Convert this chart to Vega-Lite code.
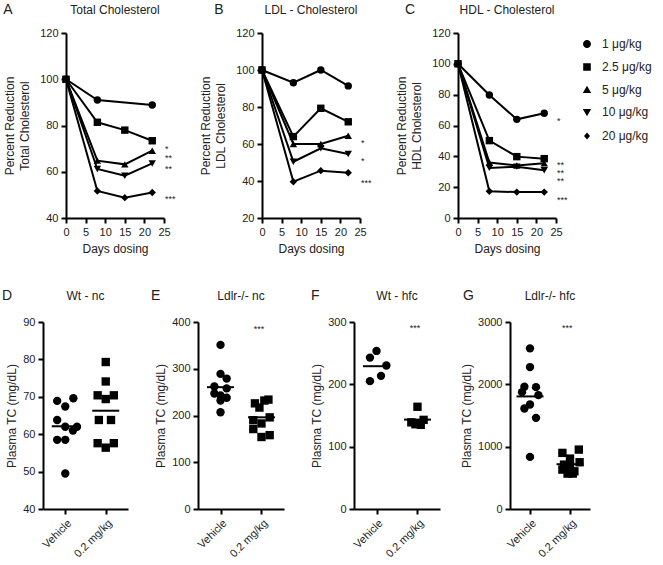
{
  "$schema": "https://vega.github.io/schema/vega-lite/v6.json",
  "padding": {"left": 2, "top": 2, "right": 2, "bottom": 2},
  "config": {
    "font": "Liberation Sans",
    "view": {"stroke": null},
    "axis": {"grid": false, "domainColor": "black", "domainWidth": 2, "tickColor": "black", "tickWidth": 2, "tickSize": 5, "labelFontSize": 11, "labelColor": "#222", "titleFontSize": 12, "titleFontWeight": "normal", "titleColor": "#222", "labelPadding": 3, "labelFlush": false, "labelOverlap": false, "titleLineHeight": 15},
    "text": {"color": "#222"}
  },
  "datasets": {
    "tc": [
      {"dose": "1 μg/kg", "day": 0, "value": 100}, {"dose": "1 μg/kg", "day": 8, "value": 91}, {"dose": "1 μg/kg", "day": 22, "value": 88.9},
      {"dose": "2.5 μg/kg", "day": 0, "value": 100}, {"dose": "2.5 μg/kg", "day": 8, "value": 81.4}, {"dose": "2.5 μg/kg", "day": 15, "value": 78}, {"dose": "2.5 μg/kg", "day": 22, "value": 73.4},
      {"dose": "5 μg/kg", "day": 0, "value": 100}, {"dose": "5 μg/kg", "day": 8, "value": 64.8}, {"dose": "5 μg/kg", "day": 15, "value": 63.2}, {"dose": "5 μg/kg", "day": 22, "value": 69.1},
      {"dose": "10 μg/kg", "day": 0, "value": 100}, {"dose": "10 μg/kg", "day": 8, "value": 61.2}, {"dose": "10 μg/kg", "day": 15, "value": 58.3}, {"dose": "10 μg/kg", "day": 22, "value": 63.6},
      {"dose": "20 μg/kg", "day": 0, "value": 100}, {"dose": "20 μg/kg", "day": 8, "value": 51.7}, {"dose": "20 μg/kg", "day": 15, "value": 48.8}, {"dose": "20 μg/kg", "day": 22, "value": 51}
    ],
    "ldl": [
      {"dose": "1 μg/kg", "day": 0, "value": 100}, {"dose": "1 μg/kg", "day": 8, "value": 93.1}, {"dose": "1 μg/kg", "day": 15, "value": 100}, {"dose": "1 μg/kg", "day": 22, "value": 91.4},
      {"dose": "2.5 μg/kg", "day": 0, "value": 100}, {"dose": "2.5 μg/kg", "day": 8, "value": 64}, {"dose": "2.5 μg/kg", "day": 15, "value": 79.3}, {"dose": "2.5 μg/kg", "day": 22, "value": 72},
      {"dose": "5 μg/kg", "day": 0, "value": 100}, {"dose": "5 μg/kg", "day": 8, "value": 60}, {"dose": "5 μg/kg", "day": 15, "value": 60}, {"dose": "5 μg/kg", "day": 22, "value": 64.5},
      {"dose": "10 μg/kg", "day": 0, "value": 100}, {"dose": "10 μg/kg", "day": 8, "value": 50.4}, {"dose": "10 μg/kg", "day": 15, "value": 57.7}, {"dose": "10 μg/kg", "day": 22, "value": 54.6},
      {"dose": "20 μg/kg", "day": 0, "value": 100}, {"dose": "20 μg/kg", "day": 8, "value": 39.6}, {"dose": "20 μg/kg", "day": 15, "value": 45.6}, {"dose": "20 μg/kg", "day": 22, "value": 44.5}
    ],
    "hdl": [
      {"dose": "1 μg/kg", "day": 0, "value": 100}, {"dose": "1 μg/kg", "day": 8, "value": 79.8}, {"dose": "1 μg/kg", "day": 15, "value": 64}, {"dose": "1 μg/kg", "day": 22, "value": 67.9},
      {"dose": "2.5 μg/kg", "day": 0, "value": 100}, {"dose": "2.5 μg/kg", "day": 8, "value": 50.2}, {"dose": "2.5 μg/kg", "day": 15, "value": 39.8}, {"dose": "2.5 μg/kg", "day": 22, "value": 38.5},
      {"dose": "5 μg/kg", "day": 0, "value": 100}, {"dose": "5 μg/kg", "day": 8, "value": 36}, {"dose": "5 μg/kg", "day": 15, "value": 34}, {"dose": "5 μg/kg", "day": 22, "value": 35.5},
      {"dose": "10 μg/kg", "day": 0, "value": 100}, {"dose": "10 μg/kg", "day": 8, "value": 32.5}, {"dose": "10 μg/kg", "day": 15, "value": 33.3}, {"dose": "10 μg/kg", "day": 22, "value": 31},
      {"dose": "20 μg/kg", "day": 0, "value": 100}, {"dose": "20 μg/kg", "day": 8, "value": 17.3}, {"dose": "20 μg/kg", "day": 15, "value": 16.8}, {"dose": "20 μg/kg", "day": 22, "value": 16.8}
    ],
    "tcStars": [{"day": 25, "value": 72, "label": "*"}, {"day": 25, "value": 68, "label": "**"}, {"day": 25, "value": 63.2, "label": "**"}, {"day": 25, "value": 50.2, "label": "***"}],
    "ldlStars": [{"day": 25, "value": 63.1, "label": "*"}, {"day": 25, "value": 53.5, "label": "*"}, {"day": 25, "value": 41.5, "label": "***"}],
    "hdlStars": [{"day": 25, "value": 66.2, "label": "*"}, {"day": 25, "value": 37.6, "label": "**"}, {"day": 25, "value": 32.6, "label": "**"}, {"day": 25, "value": 27.4, "label": "**"}, {"day": 25, "value": 14.9, "label": "***"}],
    "wtnc": [
      {"group": "Vehicle", "g": 1, "x": 0.8, "value": 68.9}, {"group": "Vehicle", "g": 1, "x": 1.2, "value": 69.6}, {"group": "Vehicle", "g": 1, "x": 1.0, "value": 67.4}, {"group": "Vehicle", "g": 1, "x": 0.8, "value": 63.8}, {"group": "Vehicle", "g": 1, "x": 1.0, "value": 62.0},
      {"group": "Vehicle", "g": 1, "x": 1.29, "value": 62.0}, {"group": "Vehicle", "g": 1, "x": 1.19, "value": 61.0}, {"group": "Vehicle", "g": 1, "x": 0.8, "value": 58.5}, {"group": "Vehicle", "g": 1, "x": 1.0, "value": 58.5}, {"group": "Vehicle", "g": 1, "x": 1.0, "value": 49.5},
      {"group": "0.2 mg/kg", "g": 2, "x": 2.0, "value": 79.3}, {"group": "0.2 mg/kg", "g": 2, "x": 2.0, "value": 74.1}, {"group": "0.2 mg/kg", "g": 2, "x": 1.8, "value": 70.4}, {"group": "0.2 mg/kg", "g": 2, "x": 2.2, "value": 70.4}, {"group": "0.2 mg/kg", "g": 2, "x": 2.0, "value": 69.4},
      {"group": "0.2 mg/kg", "g": 2, "x": 1.83, "value": 63.8}, {"group": "0.2 mg/kg", "g": 2, "x": 2.13, "value": 63.8}, {"group": "0.2 mg/kg", "g": 2, "x": 1.8, "value": 57.6}, {"group": "0.2 mg/kg", "g": 2, "x": 2.2, "value": 57.6}, {"group": "0.2 mg/kg", "g": 2, "x": 2.0, "value": 56.4}
    ],
    "ldlrnc": [
      {"group": "Vehicle", "g": 1, "x": 1.0, "value": 351}, {"group": "Vehicle", "g": 1, "x": 1.0, "value": 289}, {"group": "Vehicle", "g": 1, "x": 1.15, "value": 279}, {"group": "Vehicle", "g": 1, "x": 0.85, "value": 262}, {"group": "Vehicle", "g": 1, "x": 1.15, "value": 258},
      {"group": "Vehicle", "g": 1, "x": 0.85, "value": 247}, {"group": "Vehicle", "g": 1, "x": 1.0, "value": 243}, {"group": "Vehicle", "g": 1, "x": 1.15, "value": 238}, {"group": "Vehicle", "g": 1, "x": 1.0, "value": 232}, {"group": "Vehicle", "g": 1, "x": 1.0, "value": 207},
      {"group": "0.2 mg/kg", "g": 2, "x": 1.84, "value": 226}, {"group": "0.2 mg/kg", "g": 2, "x": 2.07, "value": 232}, {"group": "0.2 mg/kg", "g": 2, "x": 2.17, "value": 234}, {"group": "0.2 mg/kg", "g": 2, "x": 1.95, "value": 217}, {"group": "0.2 mg/kg", "g": 2, "x": 2.2, "value": 196},
      {"group": "0.2 mg/kg", "g": 2, "x": 1.8, "value": 190}, {"group": "0.2 mg/kg", "g": 2, "x": 2.0, "value": 183}, {"group": "0.2 mg/kg", "g": 2, "x": 1.8, "value": 171}, {"group": "0.2 mg/kg", "g": 2, "x": 2.2, "value": 158}, {"group": "0.2 mg/kg", "g": 2, "x": 2.0, "value": 154}
    ],
    "wthfc": [
      {"group": "Vehicle", "g": 1, "x": 1.0, "value": 253.6}, {"group": "Vehicle", "g": 1, "x": 0.84, "value": 242.9}, {"group": "Vehicle", "g": 1, "x": 1.24, "value": 230.2}, {"group": "Vehicle", "g": 1, "x": 1.11, "value": 213.6}, {"group": "Vehicle", "g": 1, "x": 0.84, "value": 205.1},
      {"group": "0.2 mg/kg", "g": 2, "x": 2.0, "value": 164}, {"group": "0.2 mg/kg", "g": 2, "x": 2.15, "value": 143}, {"group": "0.2 mg/kg", "g": 2, "x": 1.85, "value": 139}, {"group": "0.2 mg/kg", "g": 2, "x": 1.95, "value": 136}, {"group": "0.2 mg/kg", "g": 2, "x": 2.08, "value": 135}
    ],
    "ldlrhfc": [
      {"group": "Vehicle", "g": 1, "x": 1.0, "value": 2577}, {"group": "Vehicle", "g": 1, "x": 1.0, "value": 2277}, {"group": "Vehicle", "g": 1, "x": 0.86, "value": 1961}, {"group": "Vehicle", "g": 1, "x": 1.15, "value": 1955}, {"group": "Vehicle", "g": 1, "x": 0.8, "value": 1875},
      {"group": "Vehicle", "g": 1, "x": 1.21, "value": 1827}, {"group": "Vehicle", "g": 1, "x": 1.0, "value": 1677}, {"group": "Vehicle", "g": 1, "x": 0.86, "value": 1613}, {"group": "Vehicle", "g": 1, "x": 1.15, "value": 1462}, {"group": "Vehicle", "g": 1, "x": 1.0, "value": 836},
      {"group": "0.2 mg/kg", "g": 2, "x": 2.22, "value": 953}, {"group": "0.2 mg/kg", "g": 2, "x": 1.81, "value": 900}, {"group": "0.2 mg/kg", "g": 2, "x": 2.0, "value": 809}, {"group": "0.2 mg/kg", "g": 2, "x": 2.24, "value": 750}, {"group": "0.2 mg/kg", "g": 2, "x": 1.85, "value": 712},
      {"group": "0.2 mg/kg", "g": 2, "x": 2.0, "value": 686}, {"group": "0.2 mg/kg", "g": 2, "x": 1.81, "value": 632}, {"group": "0.2 mg/kg", "g": 2, "x": 2.11, "value": 605}, {"group": "0.2 mg/kg", "g": 2, "x": 1.94, "value": 568}, {"group": "0.2 mg/kg", "g": 2, "x": 2.07, "value": 568}
    ]
  },
  "spacing": 34,
  "vconcat": [
    {
      "bounds": "flush",
      "spacing": 22,
      "hconcat": [
        {"width": 1, "height": 1, "data": {"values": [{"t": ""}]}, "mark": {"type": "text"}, "encoding": {"text": {"field": "t"}}},
        {
          "bounds": "flush",
          "spacing": 98,
          "hconcat": [
            {
              "width": 98, "height": 185,
              "layer": [
                {
                  "data": {"name": "tc"},
                  "encoding": {
                    "x": {"field": "day", "type": "quantitative", "scale": {"domain": [0, 25], "nice": false}, "axis": {"values": [0, 5, 10, 15, 20, 25], "title": "Days dosing", "titlePadding": 6}},
                    "y": {"field": "value", "type": "quantitative", "scale": {"domain": [40, 120], "nice": false, "zero": false}, "axis": {"values": [40, 60, 80, 100, 120], "title": ["Percent Reduction", "Total Cholesterol"], "titlePadding": 8}}
                  },
                  "layer": [
                    {"mark": {"type": "line", "color": "black", "strokeWidth": 2}, "encoding": {"detail": {"field": "dose"}}},
                    {"mark": {"type": "point", "filled": true, "color": "black", "size": 55, "opacity": 1}, "encoding": {"shape": {"field": "dose", "type": "nominal", "scale": {"domain": ["1 μg/kg", "2.5 μg/kg", "5 μg/kg", "10 μg/kg", "20 μg/kg"], "range": ["circle", "square", "triangle-up", "triangle-down", "diamond"]}, "legend": null}}},
                    {"data": {"name": "tcStars"}, "mark": {"type": "text", "align": "left", "dx": 1, "dy": 5, "fontSize": 9}, "encoding": {"text": {"field": "label"}}}
                  ]
                },
                {"data": {"values": [{"t": "A"}]}, "mark": {"type": "text", "align": "left", "baseline": "middle", "fontSize": 14}, "encoding": {"x": {"datum": -16, "type": "quantitative", "axis": {"values": [0, 5, 10, 15, 20, 25], "title": "Days dosing", "titlePadding": 6}}, "y": {"datum": 130, "type": "quantitative", "axis": {"values": [40, 60, 80, 100, 120], "title": ["Percent Reduction", "Total Cholesterol"], "titlePadding": 8}}, "text": {"field": "t"}}},
                {"data": {"values": [{"t": "Total Cholesterol"}]}, "mark": {"type": "text", "align": "center", "baseline": "middle", "fontSize": 12}, "encoding": {"x": {"datum": 12.5, "type": "quantitative", "axis": {"values": [0, 5, 10, 15, 20, 25], "title": "Days dosing", "titlePadding": 6}}, "y": {"datum": 130, "type": "quantitative", "axis": {"values": [40, 60, 80, 100, 120], "title": ["Percent Reduction", "Total Cholesterol"], "titlePadding": 8}}, "text": {"field": "t"}}}
              ]
            },
            {
              "width": 98, "height": 185,
              "layer": [
                {
                  "data": {"name": "ldl"},
                  "encoding": {
                    "x": {"field": "day", "type": "quantitative", "scale": {"domain": [0, 25], "nice": false}, "axis": {"values": [0, 5, 10, 15, 20, 25], "title": "Days dosing", "titlePadding": 6}},
                    "y": {"field": "value", "type": "quantitative", "scale": {"domain": [20, 120], "nice": false, "zero": false}, "axis": {"values": [20, 40, 60, 80, 100, 120], "title": ["Percent Reduction", "LDL Cholesterol"], "titlePadding": 8}}
                  },
                  "layer": [
                    {"mark": {"type": "line", "color": "black", "strokeWidth": 2}, "encoding": {"detail": {"field": "dose"}}},
                    {"mark": {"type": "point", "filled": true, "color": "black", "size": 55, "opacity": 1}, "encoding": {"shape": {"field": "dose", "type": "nominal", "scale": {"domain": ["1 μg/kg", "2.5 μg/kg", "5 μg/kg", "10 μg/kg", "20 μg/kg"], "range": ["circle", "square", "triangle-up", "triangle-down", "diamond"]}, "legend": null}}},
                    {"data": {"name": "ldlStars"}, "mark": {"type": "text", "align": "left", "dx": 1, "dy": 5, "fontSize": 9}, "encoding": {"text": {"field": "label"}}}
                  ]
                },
                {"data": {"values": [{"t": "B"}]}, "mark": {"type": "text", "align": "left", "baseline": "middle", "fontSize": 14}, "encoding": {"x": {"datum": -12.2, "type": "quantitative", "axis": {"values": [0, 5, 10, 15, 20, 25], "title": "Days dosing", "titlePadding": 6}}, "y": {"datum": 132.4, "type": "quantitative", "axis": {"values": [20, 40, 60, 80, 100, 120], "title": ["Percent Reduction", "LDL Cholesterol"], "titlePadding": 8}}, "text": {"field": "t"}}},
                {"data": {"values": [{"t": "LDL - Cholesterol"}]}, "mark": {"type": "text", "align": "center", "baseline": "middle", "fontSize": 12}, "encoding": {"x": {"datum": 12.5, "type": "quantitative", "axis": {"values": [0, 5, 10, 15, 20, 25], "title": "Days dosing", "titlePadding": 6}}, "y": {"datum": 132.4, "type": "quantitative", "axis": {"values": [20, 40, 60, 80, 100, 120], "title": ["Percent Reduction", "LDL Cholesterol"], "titlePadding": 8}}, "text": {"field": "t"}}}
              ]
            },
            {
              "width": 98, "height": 185,
              "layer": [
                {
                  "data": {"name": "hdl"},
                  "resolve": {"scale": {"shape": "independent"}},
                  "encoding": {
                    "x": {"field": "day", "type": "quantitative", "scale": {"domain": [0, 25], "nice": false}, "axis": {"values": [0, 5, 10, 15, 20, 25], "title": "Days dosing", "titlePadding": 6}},
                    "y": {"field": "value", "type": "quantitative", "scale": {"domain": [0, 120], "nice": false, "zero": false}, "axis": {"values": [0, 20, 40, 60, 80, 100, 120], "title": ["Percent Reduction", "HDL Cholesterol"], "titlePadding": 8}}
                  },
                  "layer": [
                    {"mark": {"type": "line", "color": "black", "strokeWidth": 2}, "encoding": {"detail": {"field": "dose"}}},
                    {"mark": {"type": "point", "filled": true, "color": "black", "size": 55, "opacity": 1}, "encoding": {"shape": {"field": "dose", "type": "nominal", "scale": {"domain": ["1 μg/kg", "2.5 μg/kg", "5 μg/kg", "10 μg/kg", "20 μg/kg"], "range": ["circle", "square", "triangle-up", "triangle-down", "diamond"]}, "legend": null}}},
                    {"mark": {"type": "point", "filled": true, "color": "black", "opacity": 0}, "encoding": {"shape": {"field": "dose", "type": "nominal", "scale": {"domain": ["1 μg/kg", "2.5 μg/kg", "5 μg/kg", "10 μg/kg", "20 μg/kg"], "range": ["M-1,0L1,0M0.4,0A0.4,0.4,0,1,1,-0.4,0A0.4,0.4,0,1,1,0.4,0Z", "M-1,0L1,0M-0.38,-0.38L0.38,-0.38L0.38,0.38L-0.38,0.38Z", "M-1,0L1,0M0,-0.42L0.42,0.3L-0.42,0.3Z", "M-1,0L1,0M0,0.42L0.42,-0.3L-0.42,-0.3Z", "M-1,0L1,0M0,-0.36L0.3,0L0,0.36L-0.3,0Z"]}, "legend": {"title": null, "orient": "right", "offset": 20, "padding": 0, "symbolSize": 400, "symbolStrokeWidth": 2, "symbolFillColor": "black", "symbolStrokeColor": "black", "symbolOpacity": 1, "labelFontSize": 12, "labelColor": "#222", "labelOffset": 4, "rowPadding": 4, "encode": {"symbols": {"update": {"fill": {"value": "black"}, "stroke": {"value": "black"}, "strokeWidth": {"value": 2}, "opacity": {"value": 1}, "size": {"value": 400}}}}}}}},
                    {"data": {"name": "hdlStars"}, "mark": {"type": "text", "align": "left", "dx": 1, "dy": 5, "fontSize": 9}, "encoding": {"text": {"field": "label"}}}
                  ]
                },
                {"data": {"values": [{"t": "C"}]}, "mark": {"type": "text", "align": "left", "baseline": "middle", "fontSize": 14}, "encoding": {"x": {"datum": -13.5, "type": "quantitative", "axis": {"values": [0, 5, 10, 15, 20, 25], "title": "Days dosing", "titlePadding": 6}}, "y": {"datum": 135, "type": "quantitative", "axis": {"values": [0, 20, 40, 60, 80, 100, 120], "title": ["Percent Reduction", "HDL Cholesterol"], "titlePadding": 8}}, "text": {"field": "t"}}},
                {"data": {"values": [{"t": "HDL - Cholesterol"}]}, "mark": {"type": "text", "align": "center", "baseline": "middle", "fontSize": 12}, "encoding": {"x": {"datum": 12.5, "type": "quantitative", "axis": {"values": [0, 5, 10, 15, 20, 25], "title": "Days dosing", "titlePadding": 6}}, "y": {"datum": 135, "type": "quantitative", "axis": {"values": [0, 20, 40, 60, 80, 100, 120], "title": ["Percent Reduction", "HDL Cholesterol"], "titlePadding": 8}}, "text": {"field": "t"}}}
              ]
            }
          ]
        }
      ]
    },
    {
      "bounds": "flush",
      "spacing": 70,
      "hconcat": [
        {
          "width": 85, "height": 187,
          "layer": [
            {
              "data": {"name": "wtnc"},
              "encoding": {
                "x": {"field": "x", "type": "quantitative", "scale": {"domain": [0.45, 2.55], "nice": false, "zero": false}, "axis": {"values": [1, 2], "labelExpr": "datum.value == 1 ? 'Vehicle' : '0.2 mg/kg'", "labelAngle": -45, "title": null}},
                "y": {"field": "value", "type": "quantitative", "scale": {"domain": [40, 90], "nice": false, "zero": false}, "axis": {"values": [40, 50, 60, 70, 80, 90], "title": "Plasma TC (mg/dL)", "titlePadding": 4}}
              },
              "layer": [
                {"mark": {"type": "point", "filled": true, "color": "black", "size": 70, "opacity": 1}, "encoding": {"shape": {"field": "group", "type": "nominal", "scale": {"domain": ["Vehicle", "0.2 mg/kg"], "range": ["circle", "square"]}, "legend": null}}},
                {"transform": [{"aggregate": [{"op": "mean", "field": "value", "as": "mean"}], "groupby": ["g"]}], "mark": {"type": "tick", "orient": "horizontal", "size": 27, "thickness": 2, "color": "black", "opacity": 1}, "encoding": {"x": {"field": "g", "type": "quantitative"}, "y": {"field": "mean", "type": "quantitative"}}}
              ]
            },
            {"data": {"values": [{"t": "D"}]}, "mark": {"type": "text", "align": "left", "baseline": "middle", "fontSize": 14}, "encoding": {"x": {"datum": -0.56, "type": "quantitative", "axis": {"values": [1, 2], "labelExpr": "datum.value == 1 ? 'Vehicle' : '0.2 mg/kg'", "labelAngle": -45, "title": null}}, "y": {"datum": 97, "type": "quantitative", "axis": {"values": [40, 50, 60, 70, 80, 90], "title": "Plasma TC (mg/dL)", "titlePadding": 4}}, "text": {"field": "t"}}},
            {"data": {"values": [{"t": "Wt - nc"}]}, "mark": {"type": "text", "align": "center", "baseline": "middle", "fontSize": 12}, "encoding": {"x": {"datum": 1.5, "type": "quantitative", "axis": {"values": [1, 2], "labelExpr": "datum.value == 1 ? 'Vehicle' : '0.2 mg/kg'", "labelAngle": -45, "title": null}}, "y": {"datum": 97, "type": "quantitative", "axis": {"values": [40, 50, 60, 70, 80, 90], "title": "Plasma TC (mg/dL)", "titlePadding": 4}}, "text": {"field": "t"}}}
          ]
        },
        {
          "width": 86, "height": 187,
          "layer": [
            {
              "data": {"name": "ldlrnc"},
              "encoding": {
                "x": {"field": "x", "type": "quantitative", "scale": {"domain": [0.45, 2.55], "nice": false, "zero": false}, "axis": {"values": [1, 2], "labelExpr": "datum.value == 1 ? 'Vehicle' : '0.2 mg/kg'", "labelAngle": -45, "title": null}},
                "y": {"field": "value", "type": "quantitative", "scale": {"domain": [0, 400], "nice": false}, "axis": {"values": [0, 100, 200, 300, 400], "title": "Plasma TC (mg/dL)", "titlePadding": 4}}
              },
              "layer": [
                {"mark": {"type": "point", "filled": true, "color": "black", "size": 70, "opacity": 1}, "encoding": {"shape": {"field": "group", "type": "nominal", "scale": {"domain": ["Vehicle", "0.2 mg/kg"], "range": ["circle", "square"]}, "legend": null}}},
                {"transform": [{"aggregate": [{"op": "mean", "field": "value", "as": "mean"}], "groupby": ["g"]}], "mark": {"type": "tick", "orient": "horizontal", "size": 27, "thickness": 2, "color": "black", "opacity": 1}, "encoding": {"x": {"field": "g", "type": "quantitative"}, "y": {"field": "mean", "type": "quantitative"}}}
              ]
            },
            {"data": {"values": [{"t": "***"}]}, "mark": {"type": "text", "align": "center", "dy": 5, "fontSize": 9}, "encoding": {"x": {"datum": 1.94, "type": "quantitative", "axis": {"values": [1, 2], "labelExpr": "datum.value == 1 ? 'Vehicle' : '0.2 mg/kg'", "labelAngle": -45, "title": null}}, "y": {"datum": 396, "type": "quantitative", "axis": {"values": [0, 100, 200, 300, 400], "title": "Plasma TC (mg/dL)", "titlePadding": 4}}, "text": {"field": "t"}}},
            {"data": {"values": [{"t": "E"}]}, "mark": {"type": "text", "align": "left", "baseline": "middle", "fontSize": 14}, "encoding": {"x": {"datum": -0.7, "type": "quantitative", "axis": {"values": [1, 2], "labelExpr": "datum.value == 1 ? 'Vehicle' : '0.2 mg/kg'", "labelAngle": -45, "title": null}}, "y": {"datum": 455.6, "type": "quantitative", "axis": {"values": [0, 100, 200, 300, 400], "title": "Plasma TC (mg/dL)", "titlePadding": 4}}, "text": {"field": "t"}}},
            {"data": {"values": [{"t": "Ldlr-/- nc"}]}, "mark": {"type": "text", "align": "center", "baseline": "middle", "fontSize": 12}, "encoding": {"x": {"datum": 1.5, "type": "quantitative", "axis": {"values": [1, 2], "labelExpr": "datum.value == 1 ? 'Vehicle' : '0.2 mg/kg'", "labelAngle": -45, "title": null}}, "y": {"datum": 455.6, "type": "quantitative", "axis": {"values": [0, 100, 200, 300, 400], "title": "Plasma TC (mg/dL)", "titlePadding": 4}}, "text": {"field": "t"}}}
          ]
        },
        {
          "width": 86, "height": 187,
          "layer": [
            {
              "data": {"name": "wthfc"},
              "encoding": {
                "x": {"field": "x", "type": "quantitative", "scale": {"domain": [0.45, 2.55], "nice": false, "zero": false}, "axis": {"values": [1, 2], "labelExpr": "datum.value == 1 ? 'Vehicle' : '0.2 mg/kg'", "labelAngle": -45, "title": null}},
                "y": {"field": "value", "type": "quantitative", "scale": {"domain": [0, 300], "nice": false}, "axis": {"values": [0, 100, 200, 300], "title": "Plasma TC (mg/dL)", "titlePadding": 4}}
              },
              "layer": [
                {"mark": {"type": "point", "filled": true, "color": "black", "size": 70, "opacity": 1}, "encoding": {"shape": {"field": "group", "type": "nominal", "scale": {"domain": ["Vehicle", "0.2 mg/kg"], "range": ["circle", "square"]}, "legend": null}}},
                {"transform": [{"aggregate": [{"op": "mean", "field": "value", "as": "mean"}], "groupby": ["g"]}], "mark": {"type": "tick", "orient": "horizontal", "size": 27, "thickness": 2, "color": "black", "opacity": 1}, "encoding": {"x": {"field": "g", "type": "quantitative"}, "y": {"field": "mean", "type": "quantitative"}}}
              ]
            },
            {"data": {"values": [{"t": "***"}]}, "mark": {"type": "text", "align": "center", "dy": 5, "fontSize": 9}, "encoding": {"x": {"datum": 1.94, "type": "quantitative", "axis": {"values": [1, 2], "labelExpr": "datum.value == 1 ? 'Vehicle' : '0.2 mg/kg'", "labelAngle": -45, "title": null}}, "y": {"datum": 298, "type": "quantitative", "axis": {"values": [0, 100, 200, 300], "title": "Plasma TC (mg/dL)", "titlePadding": 4}}, "text": {"field": "t"}}},
            {"data": {"values": [{"t": "F"}]}, "mark": {"type": "text", "align": "left", "baseline": "middle", "fontSize": 14}, "encoding": {"x": {"datum": -0.6, "type": "quantitative", "axis": {"values": [1, 2], "labelExpr": "datum.value == 1 ? 'Vehicle' : '0.2 mg/kg'", "labelAngle": -45, "title": null}}, "y": {"datum": 341.7, "type": "quantitative", "axis": {"values": [0, 100, 200, 300], "title": "Plasma TC (mg/dL)", "titlePadding": 4}}, "text": {"field": "t"}}},
            {"data": {"values": [{"t": "Wt - hfc"}]}, "mark": {"type": "text", "align": "center", "baseline": "middle", "fontSize": 12}, "encoding": {"x": {"datum": 1.5, "type": "quantitative", "axis": {"values": [1, 2], "labelExpr": "datum.value == 1 ? 'Vehicle' : '0.2 mg/kg'", "labelAngle": -45, "title": null}}, "y": {"datum": 341.7, "type": "quantitative", "axis": {"values": [0, 100, 200, 300], "title": "Plasma TC (mg/dL)", "titlePadding": 4}}, "text": {"field": "t"}}}
          ]
        },
        {
          "width": 80, "height": 187,
          "layer": [
            {
              "data": {"name": "ldlrhfc"},
              "encoding": {
                "x": {"field": "x", "type": "quantitative", "scale": {"domain": [0.5, 2.5], "nice": false, "zero": false}, "axis": {"values": [1, 2], "labelExpr": "datum.value == 1 ? 'Vehicle' : '0.2 mg/kg'", "labelAngle": -45, "title": null}},
                "y": {"field": "value", "type": "quantitative", "scale": {"domain": [0, 3000], "nice": false}, "axis": {"values": [0, 1000, 2000, 3000], "format": "d", "title": "Plasma TC (mg/dL)", "titlePadding": 4}}
              },
              "layer": [
                {"mark": {"type": "point", "filled": true, "color": "black", "size": 70, "opacity": 1}, "encoding": {"shape": {"field": "group", "type": "nominal", "scale": {"domain": ["Vehicle", "0.2 mg/kg"], "range": ["circle", "square"]}, "legend": null}}},
                {"transform": [{"aggregate": [{"op": "mean", "field": "value", "as": "mean"}], "groupby": ["g"]}], "mark": {"type": "tick", "orient": "horizontal", "size": 27, "thickness": 2, "color": "black", "opacity": 1}, "encoding": {"x": {"field": "g", "type": "quantitative"}, "y": {"field": "mean", "type": "quantitative"}}}
              ]
            },
            {"data": {"values": [{"t": "***"}]}, "mark": {"type": "text", "align": "center", "dy": 5, "fontSize": 9}, "encoding": {"x": {"datum": 1.93, "type": "quantitative", "axis": {"values": [1, 2], "labelExpr": "datum.value == 1 ? 'Vehicle' : '0.2 mg/kg'", "labelAngle": -45, "title": null}}, "y": {"datum": 2985, "type": "quantitative", "axis": {"values": [0, 1000, 2000, 3000], "format": "d", "title": "Plasma TC (mg/dL)", "titlePadding": 4}}, "text": {"field": "t"}}},
            {"data": {"values": [{"t": "G"}]}, "mark": {"type": "text", "align": "left", "baseline": "middle", "fontSize": 14}, "encoding": {"x": {"datum": -0.675, "type": "quantitative", "axis": {"values": [1, 2], "labelExpr": "datum.value == 1 ? 'Vehicle' : '0.2 mg/kg'", "labelAngle": -45, "title": null}}, "y": {"datum": 3417, "type": "quantitative", "axis": {"values": [0, 1000, 2000, 3000], "format": "d", "title": "Plasma TC (mg/dL)", "titlePadding": 4}}, "text": {"field": "t"}}},
            {"data": {"values": [{"t": "Ldlr-/- hfc"}]}, "mark": {"type": "text", "align": "center", "baseline": "middle", "fontSize": 12}, "encoding": {"x": {"datum": 1.5, "type": "quantitative", "axis": {"values": [1, 2], "labelExpr": "datum.value == 1 ? 'Vehicle' : '0.2 mg/kg'", "labelAngle": -45, "title": null}}, "y": {"datum": 3417, "type": "quantitative", "axis": {"values": [0, 1000, 2000, 3000], "format": "d", "title": "Plasma TC (mg/dL)", "titlePadding": 4}}, "text": {"field": "t"}}}
          ]
        }
      ]
    }
  ]
}
